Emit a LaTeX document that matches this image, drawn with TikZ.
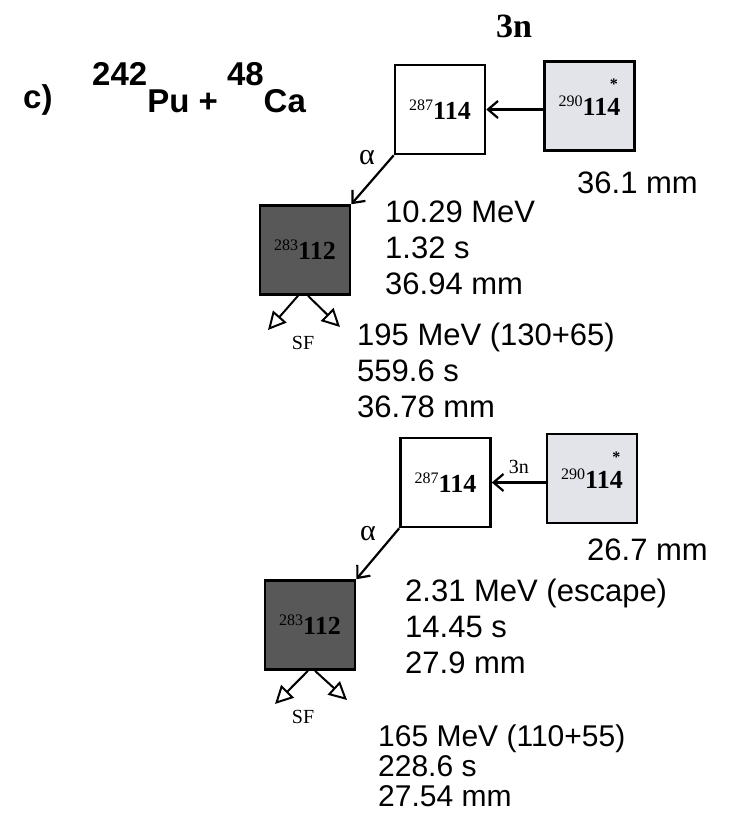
\documentclass[tikz,border=0pt]{standalone}
\usepackage{fontspec}
\setmainfont{Liberation Sans}
\newfontfamily\nucfont{Liberation Serif}
\usetikzlibrary{arrows.meta}
\definecolor{excitedgray}{RGB}{226,228,233}
\definecolor{decaygray}{RGB}{88,88,88}
\newcommand{\nucl}[2]{{\nucfont\fontsize{26}{26}\selectfont\bfseries\raisebox{9pt}{\fontsize{16}{16}\selectfont\mdseries #1}#2}}
\newcommand{\excited}[1]{\ooalign{#1\cr\hidewidth\raisebox{26pt}{\fontsize{16}{16}\selectfont *}\hidewidth\cr}}

\begin{document}
\begin{tikzpicture}[x=1pt, y=-1pt,
  box/.style={draw, line width=2.6pt, minimum width=90pt, minimum height=89pt, inner sep=0pt},
  parent/.style={box, fill=excitedgray},
  daughter/.style={box, fill=decaygray},
  decay/.style={-{Straight Barb[length=10pt,width=17pt]}, line width=2.2pt},
  fission/.style={-{Triangle[open,length=18pt,width=18pt]}, line width=2pt},
  data/.style={font=\fontsize{31}{36}\selectfont, align=left, inner sep=0pt, anchor=north west}]
  \useasboundingbox (0,0) rectangle (731,816);
  \node[font=\bfseries\fontsize{33}{33}\selectfont, anchor=base west, inner sep=0pt] (panel) at (23,108) {c)};
  \node[font=\bfseries\fontsize{33}{33}\selectfont, anchor=base west, inner sep=0pt] (reaction) at (92,112) {\raisebox{27pt}{242}Pu + \raisebox{27pt}{48}Ca};
  \node[font=\nucfont\bfseries\fontsize{34}{34}\selectfont] (evap) at (514,26) {3n};

  % first event
  \node[parent] (cn1) at (589.5,106) {\nucl{290}{11\excited{4}}};
  \node[box] (er1) at (440,109.5) {\nucl{287}{114}};
  \node[daughter] (dau1) at (305,250) {\nucl{283}{112}};
  \draw[decay] (cn1.west |- er1.east) -- (er1.east);
  \draw[decay] (er1.south west) -- (dau1.north east);
  \node[font=\nucfont\fontsize{30}{30}\selectfont] (alpha1) at (367,158) {α};
  \coordinate (sfl1) at (268,330);
  \coordinate (sfr1) at (340,327);
  \draw[fission] ([xshift=-7pt]dau1.south) -- (sfl1);
  \draw[fission] ([xshift=3pt]dau1.south) -- (sfr1);
  \node[font=\nucfont\fontsize{20}{20}\selectfont] (sfname1) at (303,343) {SF};
  \node[data, anchor=base west] (range1) at (577,193) {36.1 mm};
  \node[data] (evr1) at (385,201) {10.29 MeV\\1.32 s\\36.94 mm};
  \node[data] (sf1) at (357,323) {195 MeV (130+65)\\559.6 s\\36.78 mm};

  % second event
  \node[parent] (cn2) at (592,478.5) {\nucl{290}{11\excited{4}}};
  \node[box] (er2) at (445.5,482.5) {\nucl{287}{114}};
  \node[daughter] (dau2) at (310,625) {\nucl{283}{112}};
  \draw[decay] (cn2.west |- er2.east) -- (er2.east)
    node[midway, above=4pt, font=\nucfont\fontsize{20}{20}\selectfont] {3n};
  \draw[decay] (er2.south west) -- (dau2.north east);
  \node[font=\nucfont\fontsize{30}{30}\selectfont] (alpha2) at (368,534) {α};
  \coordinate (sfl2) at (275,704);
  \coordinate (sfr2) at (347,700);
  \draw[fission] ([xshift=-2pt]dau2.south) -- (sfl2);
  \draw[fission] ([xshift=5pt]dau2.south) -- (sfr2);
  \node[font=\nucfont\fontsize{20}{20}\selectfont] (sfname2) at (303,717) {SF};
  \node[data, anchor=base west] (range2) at (587,560) {26.7 mm};
  \node[data] (evr2) at (405,579) {2.31 MeV (escape)\\14.45 s\\27.9 mm};
  \node[data, font=\fontsize{30}{30}\selectfont] (sf2) at (378,725) {165 MeV (110+55)\\228.6 s\\27.54 mm};
\end{tikzpicture}
\end{document}
